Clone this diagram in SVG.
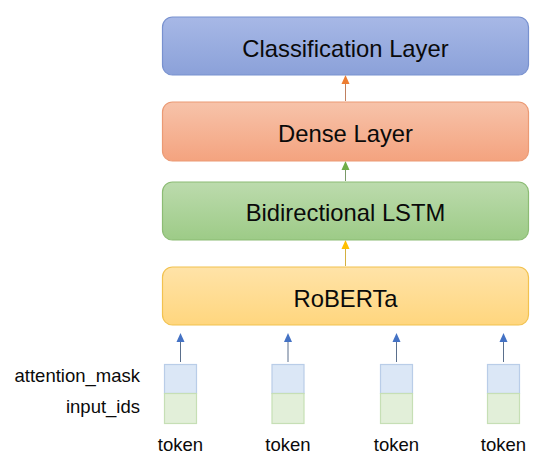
<svg xmlns="http://www.w3.org/2000/svg" width="540" height="462" viewBox="0 0 540 462">
<style>
.t{font-family:"Liberation Sans",Arial,sans-serif;fill:#0a0a0a;}
.big{font-size:23.8px;text-anchor:middle;}
.sm{font-size:18.5px;}
.cb{fill:#dbe7f6;stroke:#b9cde8;stroke-width:1.2;}
.cg{fill:#e2efd9;stroke:#c6dfb5;stroke-width:1.2;}
</style>
<defs>
<linearGradient id="gB" x1="0" y1="0" x2="0" y2="1"><stop offset="0" stop-color="#a7b8e6"/><stop offset="1" stop-color="#8ba1d9"/></linearGradient>
<linearGradient id="gO" x1="0" y1="0" x2="0" y2="1"><stop offset="0" stop-color="#f7c3aa"/><stop offset="1" stop-color="#f4a37f"/></linearGradient>
<linearGradient id="gG" x1="0" y1="0" x2="0" y2="1"><stop offset="0" stop-color="#bcdbad"/><stop offset="1" stop-color="#9dcb87"/></linearGradient>
<linearGradient id="gY" x1="0" y1="0" x2="0" y2="1"><stop offset="0" stop-color="#ffe3a8"/><stop offset="1" stop-color="#ffd67e"/></linearGradient>
</defs>
<g id="connectors">
<line x1="345.5" y1="101" x2="345.5" y2="84" stroke="#c08060" stroke-width="1"/>
<path d="M341.5,84 L345.5,75 L349.5,84 Z" fill="#ed7d31"/>
<line x1="345.5" y1="181" x2="345.5" y2="170" stroke="#7a9a68" stroke-width="1"/>
<path d="M341.5,170 L345.5,161 L349.5,170 Z" fill="#70ad47"/>
<line x1="345.5" y1="266" x2="345.5" y2="249" stroke="#d4b040" stroke-width="1"/>
<path d="M341.5,249 L345.5,240 L349.5,249 Z" fill="#ffc000"/>
<g stroke="#5a6f8c" stroke-width="1">
<line x1="180.5" y1="362" x2="180.5" y2="342"/>
<line x1="288" y1="362" x2="288" y2="342"/>
<line x1="396.5" y1="362" x2="396.5" y2="342"/>
<line x1="503.5" y1="362" x2="503.5" y2="342"/>
</g>
<g fill="#4472c4">
<path d="M176.5,342 L180.5,333 L184.5,342 Z"/>
<path d="M284,342 L288,333 L292,342 Z"/>
<path d="M392.5,342 L396.5,333 L400.5,342 Z"/>
<path d="M499.5,342 L503.5,333 L507.5,342 Z"/>
</g>
</g>
<g id="classification">
<rect x="162.5" y="17" width="366" height="58" rx="10" fill="url(#gB)" stroke="#7891cf" stroke-width="1.2"/>
<text class="t big" x="345.5" y="57">Classification Layer</text>
</g>
<g id="dense">
<rect x="162.5" y="102" width="366" height="59" rx="10" fill="url(#gO)" stroke="#eb9a74" stroke-width="1.2"/>
<text class="t big" x="345.5" y="142">Dense Layer</text>
</g>
<g id="lstm">
<rect x="162.5" y="182" width="366" height="58" rx="10" fill="url(#gG)" stroke="#8cbc74" stroke-width="1.2"/>
<text class="t big" x="345.5" y="221">Bidirectional LSTM</text>
</g>
<g id="roberta">
<rect x="162.5" y="267" width="366" height="58" rx="10" fill="url(#gY)" stroke="#f2c24f" stroke-width="1.2"/>
<text class="t big" x="345.5" y="307">RoBERTa</text>
</g>
<g id="labels">
<text class="t sm" x="140" y="382" text-anchor="end">attention_mask</text>
<text class="t sm" x="140" y="413" text-anchor="end">input_ids</text>
</g>
<g id="token1">
<rect class="cb" x="164.5" y="364.5" width="32" height="29"/>
<rect class="cg" x="164.5" y="393.5" width="32" height="30"/>
<text class="t sm" x="180.5" y="451" text-anchor="middle">token</text>
</g>
<g id="token2">
<rect class="cb" x="272" y="364.5" width="32" height="29"/>
<rect class="cg" x="272" y="393.5" width="32" height="30"/>
<text class="t sm" x="288" y="451" text-anchor="middle">token</text>
</g>
<g id="token3">
<rect class="cb" x="380.5" y="364.5" width="32" height="29"/>
<rect class="cg" x="380.5" y="393.5" width="32" height="30"/>
<text class="t sm" x="396.5" y="451" text-anchor="middle">token</text>
</g>
<g id="token4">
<rect class="cb" x="487.5" y="364.5" width="32" height="29"/>
<rect class="cg" x="487.5" y="393.5" width="32" height="30"/>
<text class="t sm" x="503.5" y="451" text-anchor="middle">token</text>
</g>
</svg>
